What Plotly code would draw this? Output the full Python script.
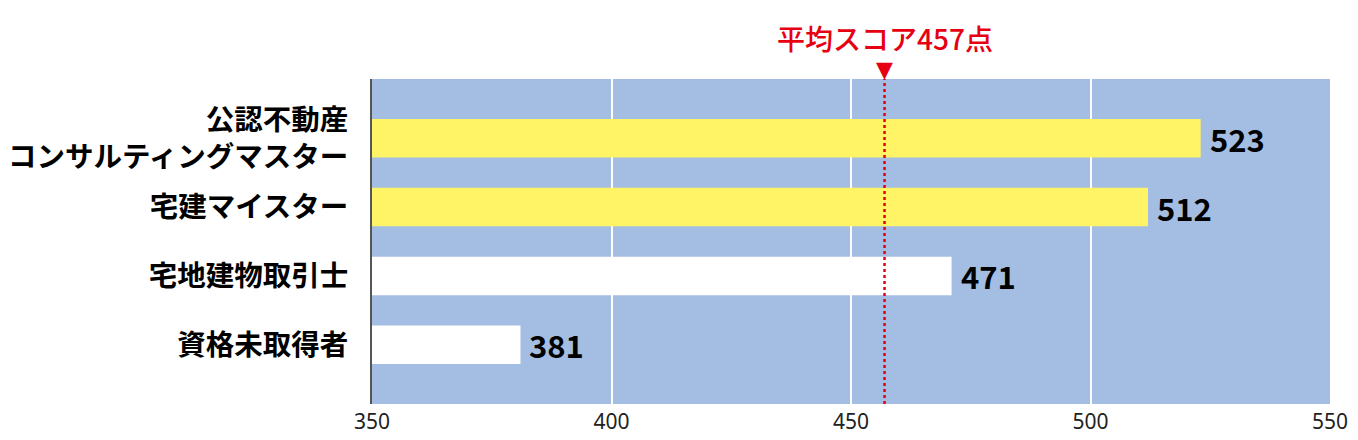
import plotly.graph_objects as go

# data
categories = ["公認不動産<br>コンサルティングマスター", "宅建マイスター", "宅地建物取引士", "資格未取得者"]
scores = [523, 512, 471, 381]
bar_colors = ["#FFF366", "#FFF366", "#FFFFFF", "#FFFFFF"]
average_score = 457
average_label = "平均スコア457点"
x_ticks = [350, 400, 450, 500, 550]
x_base = 350

jp_font = "Noto Sans CJK JP"

fig = go.Figure()

# bars start at the axis minimum
fig.add_trace(go.Bar(
    x=[s - x_base for s in scores],
    y=categories,
    orientation="h",
    base=x_base,
    marker=dict(color=bar_colors, line=dict(width=0)),
    width=0.56,
    hoverinfo="skip",
))

# value labels next to bars
for cat, s in zip(categories, scores):
    fig.add_annotation(
        x=s, y=cat, text=str(s), showarrow=False,
        xanchor="left", xshift=7,
        font=dict(family=jp_font, size=31, color="black", weight="bold"),
    )

# average line
fig.add_shape(type="line", x0=average_score, x1=average_score, y0=0, y1=1,
              xref="x", yref="paper",
              line=dict(color="#E60012", width=2.5, dash="dot"))

# triangle marker and label above plot
fig.add_annotation(x=average_score, y=1, xref="x", yref="paper",
                   text="▼", showarrow=False, yanchor="bottom", yshift=-5,
                   font=dict(family="DejaVu Sans", size=22, color="#E60012"))
fig.add_annotation(x=average_score, y=1, xref="x", yref="paper",
                   text=average_label, showarrow=False, yanchor="bottom", yshift=19,
                   font=dict(family=jp_font, size=28, color="#E60012", weight=500))

fig.update_layout(
    width=1350, height=432,
    margin=dict(l=364, r=28, t=71, b=36),
    plot_bgcolor="#A4BDE2",
    paper_bgcolor="white",
    showlegend=False,
)

fig.update_xaxes(
    range=[350, 550], tickvals=x_ticks,
    showgrid=True, gridcolor="white", gridwidth=1.5,
    zeroline=False, showline=False,
    tickfont=dict(family="Noto Sans", size=21, color="#222222"),
    ticks="", ticklabelstandoff=3, automargin=False,
)
fig.update_yaxes(
    autorange=False, range=[3.86, -0.86],
    categoryorder="array", categoryarray=categories,
    showgrid=False, zeroline=False,
    showline=True, linecolor="#555555", linewidth=2,
    tickfont=dict(family=jp_font, size=28.5, color="black", weight="bold"),
    ticks="", ticklabelstandoff=16, automargin=False,
)

fig.write_html("out.html")
